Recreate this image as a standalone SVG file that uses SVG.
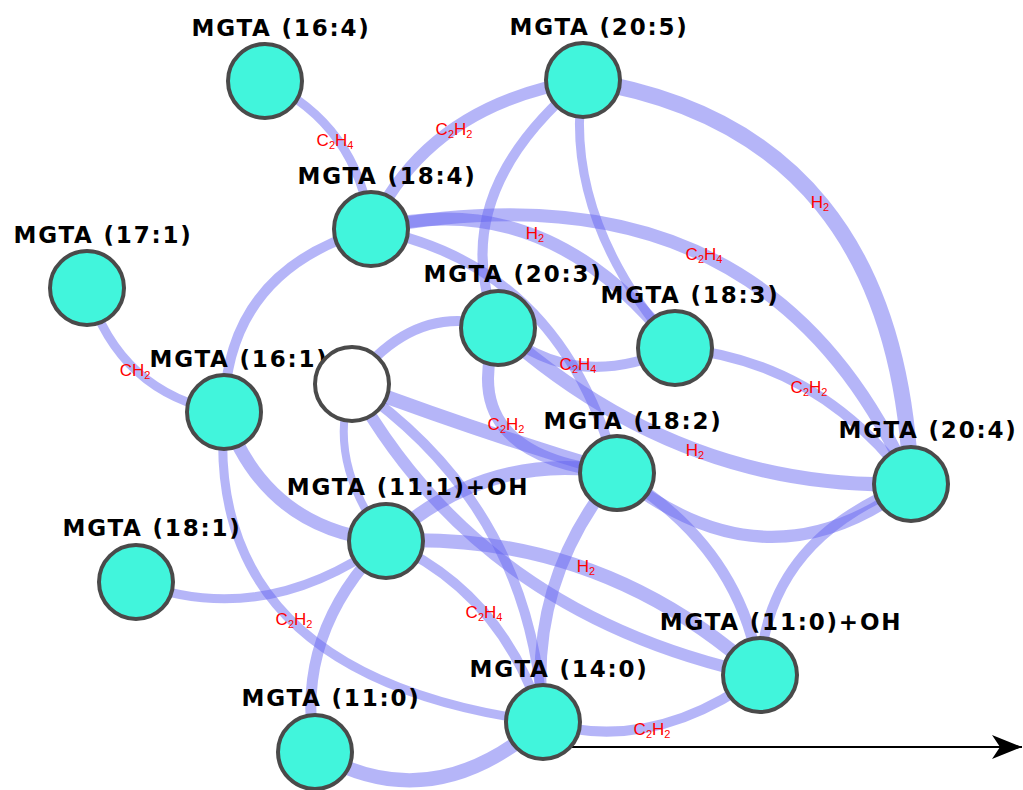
<svg xmlns="http://www.w3.org/2000/svg" width="1023" height="790" viewBox="0 0 1023 790">
<defs>
<style>
.e{fill:none;stroke:rgb(100,100,240);stroke-opacity:0.48;stroke-linecap:butt}
.n{fill:#41f5dc;stroke:#4a4a4a;stroke-width:4}
.w{fill:#ffffff;stroke:#4a4a4a;stroke-width:4}
.t{font-family:"DejaVu Sans",Verdana,sans-serif;font-weight:bold;font-size:23px;letter-spacing:1.8px;fill:#000;text-anchor:middle}
.l{font-family:"Liberation Sans",Arial,sans-serif;font-size:17px;fill:#ff0000;text-anchor:middle}
.s{font-size:11px}
</style>
<marker id="ah" markerWidth="30" markerHeight="24" refX="30" refY="12" orient="auto" markerUnits="userSpaceOnUse">
<path d="M0,0 L30,12 L0,24 L8,12 Z" fill="#000"/>
</marker>
</defs>
<rect width="1023" height="790" fill="#ffffff"/>
<g id="connectors">
<path class="e" stroke-width="9" d="M265,81 Q358,125 371,229"/>
<path class="e" stroke-width="12" d="M371,229 Q427,105 583,80"/>
<path class="e" stroke-width="16" d="M583,80 Q897,128 911,484"/>
<path class="e" stroke-width="10" d="M583,80 Q443,196 498,328"/>
<path class="e" stroke-width="9" d="M583,80 Q561,216 675,348"/>
<path class="e" stroke-width="13" d="M371,229 Q765,153 911,484"/>
<path class="e" stroke-width="13" d="M371,229 Q547,183 675,348"/>
<path class="e" stroke-width="10" d="M371,229 Q562,265 617,473"/>
<path class="e" stroke-width="10" d="M371,229 Q226,270 224,412"/>
<path class="e" stroke-width="9" d="M87,288 Q120,394 224,412"/>
<path class="e" stroke-width="10" d="M498,328 Q415,300 352,384"/>
<path class="e" stroke-width="10" d="M498,328 Q573,394 675,348"/>
<path class="e" stroke-width="12" d="M498,328 Q452,456 617,473"/>
<path class="e" stroke-width="14" d="M498,328 Q681,492 911,484"/>
<path class="e" stroke-width="10" d="M675,348 Q819,360 911,484"/>
<path class="e" stroke-width="14" d="M352,384 Q485,434 617,473"/>
<path class="e" stroke-width="12" d="M352,384 Q480,615 760,675"/>
<path class="e" stroke-width="10" d="M352,384 Q532,507 543,722"/>
<path class="e" stroke-width="8" d="M352,384 Q325,461 386,541"/>
<path class="e" stroke-width="13" d="M224,412 Q265,530 386,541"/>
<path class="e" stroke-width="9" d="M224,412 Q202,677 543,722"/>
<path class="e" stroke-width="9" d="M136,582 Q263,630 386,541"/>
<path class="e" stroke-width="11" d="M386,541 Q293,633 315,752"/>
<path class="e" stroke-width="14" d="M386,541 Q488,449 617,473"/>
<path class="e" stroke-width="14" d="M386,541 Q599,530 760,675"/>
<path class="e" stroke-width="10" d="M386,541 Q503,592 543,722"/>
<path class="e" stroke-width="12" d="M617,473 Q526,582 543,722"/>
<path class="e" stroke-width="12" d="M617,473 Q766,595 911,484"/>
<path class="e" stroke-width="11" d="M617,473 Q741,546 760,675"/>
<path class="e" stroke-width="10" d="M911,484 Q764,540 760,675"/>
<path class="e" stroke-width="10" d="M543,722 Q652,755 760,675"/>
<path class="e" stroke-width="14" d="M315,752 Q431,821 543,722"/>
<line x1="560" y1="747" x2="1022" y2="747" stroke="#000" stroke-width="2" marker-end="url(#ah)"/>
</g>
<g id="edge-labels">
<text class="l" x="335" y="146">C<tspan class="s" dy="3">2</tspan><tspan dy="-3">H</tspan><tspan class="s" dy="3">4</tspan></text>
<text class="l" x="454" y="135">C<tspan class="s" dy="3">2</tspan><tspan dy="-3">H</tspan><tspan class="s" dy="3">2</tspan></text>
<text class="l" x="820" y="208">H<tspan class="s" dy="3">2</tspan></text>
<text class="l" x="704" y="260">C<tspan class="s" dy="3">2</tspan><tspan dy="-3">H</tspan><tspan class="s" dy="3">4</tspan></text>
<text class="l" x="535" y="239">H<tspan class="s" dy="3">2</tspan></text>
<text class="l" x="135" y="376">CH<tspan class="s" dy="3">2</tspan></text>
<text class="l" x="578" y="370">C<tspan class="s" dy="3">2</tspan><tspan dy="-3">H</tspan><tspan class="s" dy="3">4</tspan></text>
<text class="l" x="506" y="430">C<tspan class="s" dy="3">2</tspan><tspan dy="-3">H</tspan><tspan class="s" dy="3">2</tspan></text>
<text class="l" x="695" y="456">H<tspan class="s" dy="3">2</tspan></text>
<text class="l" x="809" y="393">C<tspan class="s" dy="3">2</tspan><tspan dy="-3">H</tspan><tspan class="s" dy="3">2</tspan></text>
<text class="l" x="294" y="625">C<tspan class="s" dy="3">2</tspan><tspan dy="-3">H</tspan><tspan class="s" dy="3">2</tspan></text>
<text class="l" x="586" y="572">H<tspan class="s" dy="3">2</tspan></text>
<text class="l" x="484" y="618">C<tspan class="s" dy="3">2</tspan><tspan dy="-3">H</tspan><tspan class="s" dy="3">4</tspan></text>
<text class="l" x="652" y="735">C<tspan class="s" dy="3">2</tspan><tspan dy="-3">H</tspan><tspan class="s" dy="3">2</tspan></text>
</g>
<g id="node-16-4"><circle class="n" cx="265" cy="81" r="37"/><text class="t" x="281" y="36">MGTA (16:4)</text></g>
<g id="node-20-5"><circle class="n" cx="583" cy="80" r="37"/><text class="t" x="599" y="35">MGTA (20:5)</text></g>
<g id="node-18-4"><circle class="n" cx="371" cy="229" r="37"/><text class="t" x="387" y="184">MGTA (18:4)</text></g>
<g id="node-17-1"><circle class="n" cx="87" cy="288" r="37"/><text class="t" x="103" y="243">MGTA (17:1)</text></g>
<g id="node-16-1"><circle class="n" cx="224" cy="412" r="37"/><text class="t" x="239" y="367">MGTA (16:1)</text></g>
<g id="node-white"><circle class="w" cx="352" cy="384" r="37"/></g>
<g id="node-20-3"><circle class="n" cx="498" cy="328" r="37"/><text class="t" x="513" y="282">MGTA (20:3)</text></g>
<g id="node-18-3"><circle class="n" cx="675" cy="348" r="37"/><text class="t" x="690" y="303">MGTA (18:3)</text></g>
<g id="node-18-2"><circle class="n" cx="617" cy="473" r="37"/><text class="t" x="633" y="429">MGTA (18:2)</text></g>
<g id="node-20-4"><circle class="n" cx="911" cy="484" r="37"/><text class="t" x="928" y="438">MGTA (20:4)</text></g>
<g id="node-11-1-oh"><circle class="n" cx="386" cy="541" r="37"/><text class="t" x="408" y="495">MGTA (11:1)+OH</text></g>
<g id="node-18-1"><circle class="n" cx="136" cy="582" r="37"/><text class="t" x="152" y="536">MGTA (18:1)</text></g>
<g id="node-11-0-oh"><circle class="n" cx="760" cy="675" r="37"/><text class="t" x="781" y="630">MGTA (11:0)+OH</text></g>
<g id="node-14-0"><circle class="n" cx="543" cy="722" r="37"/><text class="t" x="559" y="677">MGTA (14:0)</text></g>
<g id="node-11-0"><circle class="n" cx="315" cy="752" r="37"/><text class="t" x="331" y="706">MGTA (11:0)</text></g>
</svg>
